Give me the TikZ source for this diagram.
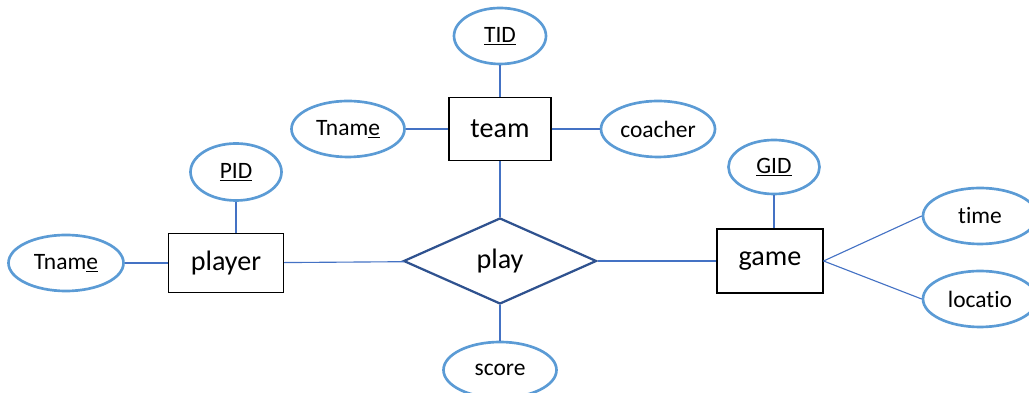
\documentclass[tikz,border=0pt]{standalone}
\usepackage{fontspec}
\setmainfont{Carlito}[Ligatures=NoCommon]
\usetikzlibrary{shapes.geometric}
\definecolor{attrblue}{HTML}{5B9BD5}
\definecolor{lineblue}{HTML}{4472C4}
\definecolor{relblue}{HTML}{2F528F}
\begin{document}
\begin{tikzpicture}[
  entity/.style={draw, rectangle, line width=0.8pt, inner sep=0pt, font=\fontsize{20}{24}\selectfont},
  attr/.style={draw=attrblue, ellipse, line width=1.9pt, inner sep=0pt, minimum width=2.85cm, minimum height=1.4cm, font=\fontsize{16.7}{20}\selectfont},
  rel/.style={draw=relblue, diamond, line width=1.6pt, inner sep=0pt, font=\fontsize{20}{24}\selectfont},
  link/.style={draw=lineblue, line width=0.8pt}]
\useasboundingbox (0,0) rectangle (25.725,9.825);

\node[entity, minimum width=2.55cm, minimum height=1.575cm] (team) at (12.5,6.6) {team};
\node[entity, minimum width=2.875cm, minimum height=1.475cm] (player) at (5.65,3.25) {player};
\node[entity, minimum width=2.65cm, minimum height=1.6cm] (game) at (19.25,3.3) {game};
\node[rel, minimum width=4.825cm, minimum height=2.15cm] (play) at (12.5,3.3) {play};

\node[attr, minimum width=2.3cm] (tid) at (12.5,8.925) {\underline{TID}};
\node[attr, minimum width=2.825cm] (tname) at (8.7,6.6) {Tnam\underline{e}};
\node[attr] (coacher) at (16.45,6.6) {coacher};
\node[attr, minimum width=2.275cm, minimum height=1.425cm] (pid) at (5.9,5.525) {\underline{PID}};
\node[attr, minimum width=2.875cm] (pname) at (1.65,3.25) {Tnam\underline{e}};
\node[attr, minimum width=2.275cm, minimum height=1.35cm] (gid) at (19.35,5.65) {\underline{GID}};
\node[attr] (time) at (24.5,4.425) {time};
\node[attr] (location) at (24.5,2.35) {locatio};
\node[attr, minimum width=2.825cm] (score) at (12.5,0.575) {score};

\draw[link] (tid) -- (team);
\draw[link] (tname) -- (team);
\draw[link] (team) -- (coacher);
\draw[link] (team) -- (play);
\draw[link] (play) -- (score);
\draw[link] (pid.south) -- (pid.south |- player.north);
\draw[link] (pname) -- (player);
\draw[link] (player) -- (play);
\draw[link] (play) -- (game);
\draw[link] (gid.south) -- (gid.south |- game.north);
\draw[link] (game.east) -- (time.west);
\draw[link] (game.east) -- (location.west);
\end{tikzpicture}
\end{document}
